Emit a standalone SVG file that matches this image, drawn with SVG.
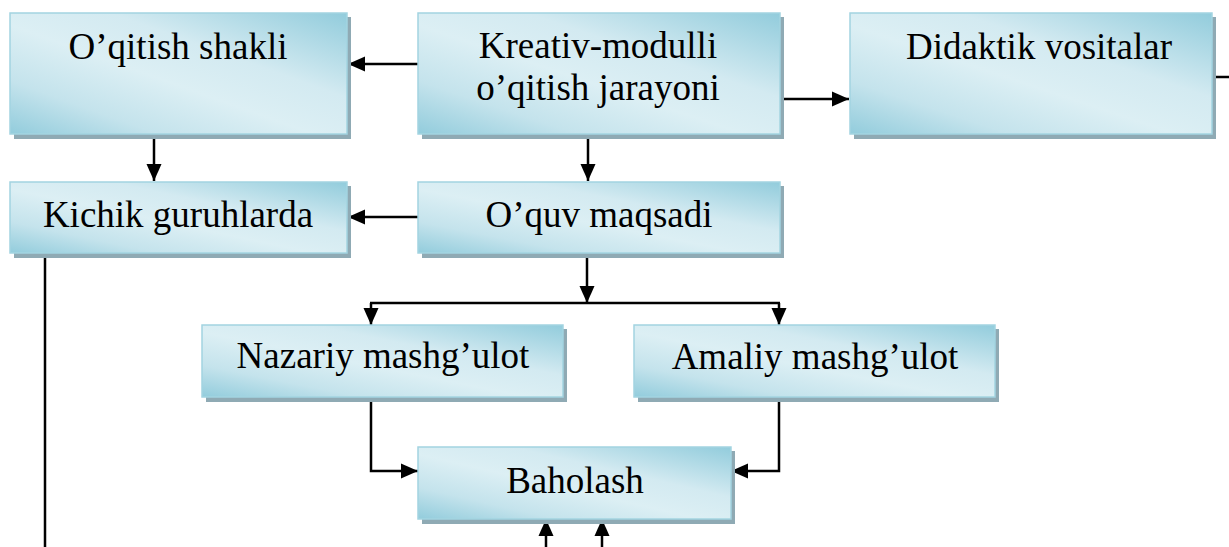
<svg xmlns="http://www.w3.org/2000/svg" width="1229" height="547" viewBox="0 0 1229 547">
  <style>
    .shadow { fill: #8FAAB4; }
    .box { fill: url(#boxFill); stroke: #A3D4E1; stroke-width: 1.5; }
    text { font-family: 'Liberation Serif', 'Times New Roman', serif; font-size: 37px; fill: #000; text-anchor: middle; }
    .wire { fill: none; stroke: #000; stroke-width: 2.5; }
  </style>
  <defs>
    <linearGradient id="boxFill" x1="0" y1="1" x2="1" y2="0">
      <stop offset="0" stop-color="#92CCDC"/>
      <stop offset="0.22" stop-color="#C4E3EC"/>
      <stop offset="0.45" stop-color="#DCEFF4"/>
      <stop offset="0.65" stop-color="#D3EAF1"/>
      <stop offset="1" stop-color="#92CCDC"/>
    </linearGradient>
    <!-- solid arrowhead, tip at the path end -->
    <marker id="arrow" markerUnits="userSpaceOnUse" markerWidth="20" markerHeight="20" refX="17" refY="9" orient="auto">
      <path d="M0,1.5 L17,9 L0,16.5 Z" fill="#000"/>
    </marker>
  </defs>

  <!-- connectors -->
  <g id="connectors">
    <path class="wire" d="M418,64 H348" marker-end="url(#arrow)"/>
    <path class="wire" d="M780,99 H849" marker-end="url(#arrow)"/>
    <path class="wire" d="M1212,77 H1229"/>
    <path class="wire" d="M154,134 V181" marker-end="url(#arrow)"/>
    <path class="wire" d="M588,134 V181" marker-end="url(#arrow)"/>
    <path class="wire" d="M418,217 H348" marker-end="url(#arrow)"/>
    <path class="wire" d="M45,253 V547"/>
    <path class="wire" d="M587,253 V303" marker-end="url(#arrow)"/>
    <path class="wire" d="M370,303 H780"/>
    <path class="wire" d="M371,303 V325" marker-end="url(#arrow)"/>
    <path class="wire" d="M779,303 V325" marker-end="url(#arrow)"/>
    <path class="wire" d="M371,397 V471 H418" marker-end="url(#arrow)"/>
    <path class="wire" d="M779,397 V471 H731" marker-end="url(#arrow)"/>
    <path class="wire" d="M546,547 V519" marker-end="url(#arrow)"/>
    <path class="wire" d="M602,547 V519" marker-end="url(#arrow)"/>
  </g>

  <g id="oqitish-shakli">
    <rect class="shadow" x="14" y="17" width="337" height="122"/>
    <rect class="box" x="10" y="13" width="337" height="121"/>
    <text x="178" y="59">O’qitish shakli</text>
  </g>

  <g id="kreativ-modulli">
    <rect class="shadow" x="422" y="17" width="362" height="122"/>
    <rect class="box" x="418" y="13" width="362" height="121"/>
    <text x="598" y="58">Kreativ-modulli</text>
    <text x="598" y="100">o’qitish jarayoni</text>
  </g>

  <g id="didaktik-vositalar">
    <rect class="shadow" x="854" y="17" width="362" height="122"/>
    <rect class="box" x="850" y="13" width="362" height="121"/>
    <text x="1039" y="59">Didaktik vositalar</text>
  </g>

  <g id="kichik-guruhlarda">
    <rect class="shadow" x="14" y="186" width="337" height="72"/>
    <rect class="box" x="10" y="182" width="337" height="71"/>
    <text x="178" y="227">Kichik guruhlarda</text>
  </g>

  <g id="oquv-maqsadi">
    <rect class="shadow" x="422" y="186" width="362" height="72"/>
    <rect class="box" x="418" y="182" width="362" height="71"/>
    <text x="599" y="227">O’quv maqsadi</text>
  </g>

  <g id="nazariy-mashgulot">
    <rect class="shadow" x="206" y="329" width="361" height="73"/>
    <rect class="box" x="202" y="325" width="361" height="72"/>
    <text x="383" y="368">Nazariy mashg’ulot</text>
  </g>

  <g id="amaliy-mashgulot">
    <rect class="shadow" x="638" y="329" width="361" height="73"/>
    <rect class="box" x="634" y="325" width="361" height="72"/>
    <text x="815" y="369">Amaliy mashg’ulot</text>
  </g>

  <g id="baholash">
    <rect class="shadow" x="422" y="451" width="313" height="73"/>
    <rect class="box" x="418" y="447" width="313" height="72"/>
    <text x="575" y="493">Baholash</text>
  </g>
</svg>
